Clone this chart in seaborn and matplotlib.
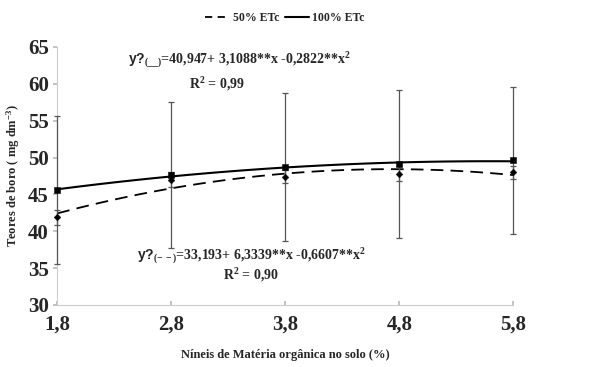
import matplotlib
matplotlib.use("Agg")
import matplotlib.pyplot as plt
import numpy as np
import pandas as pd
import seaborn as sns
from matplotlib.lines import Line2D

# data
mo_levels = [1.8, 2.8, 3.8, 4.8, 5.8]
tick_labels = ["1,8", "2,8", "3,8", "4,8", "5,8"]
boro_100 = [45.6, 47.6, 48.7, 49.1, 49.6]
err_100 = [10.0, 9.9, 10.0, 10.0, 10.0]
boro_50 = [41.9, 47.0, 47.4, 47.8, 48.0]
err_50 = [1.0, 1.0, 0.9, 1.0, 0.9]

sns.set_theme(style="white")
plt.rcParams["font.family"] = ["Liberation Serif", "DejaVu Serif"]
plt.rcParams["font.weight"] = "bold"
plt.rcParams["mathtext.fontset"] = "custom"
plt.rcParams["mathtext.rm"] = "Liberation Serif:bold"
plt.rcParams["mathtext.it"] = "Liberation Serif:bold"
plt.rcParams["mathtext.bf"] = "Liberation Serif:bold"
plt.rcParams["mathtext.sf"] = "Liberation Sans:bold"

df = pd.DataFrame({
    "mo": mo_levels * 2,
    "boro": boro_50 + boro_100,
    "trat": ["50% ETc"] * 5 + ["100% ETc"] * 5,
})

fig = plt.figure(figsize=(5.9, 3.67), dpi=100)
ax = fig.add_axes([0.097, 0.169, 0.773, 0.703])

# error bars
for yv, ev in [(boro_100, err_100), (boro_50, err_50)]:
    eb = ax.errorbar(mo_levels, yv, yerr=ev, fmt="none", ecolor="#555555",
                     elinewidth=0.9, capsize=2, capthick=0.9, zorder=3)
    for art in eb.lines[1] + eb.lines[2]:
        art.set_clip_on(False)

# quadratic fits
d50 = df[df.trat == "50% ETc"]
d100 = df[df.trat == "100% ETc"]
sns.regplot(data=d50, x="mo", y="boro", order=2, ci=None, scatter=False, ax=ax,
            line_kws=dict(color="black", lw=1.3, ls=(0, (7, 4))))
sns.regplot(data=d100, x="mo", y="boro", order=2, ci=None, scatter=False, ax=ax,
            line_kws=dict(color="black", lw=1.5))

# markers
sns.scatterplot(data=d100, x="mo", y="boro", marker="s", s=22, color="black",
                edgecolor="black", ax=ax, zorder=4, clip_on=False)
sns.scatterplot(data=d50, x="mo", y="boro", marker="D", s=12, color="black",
                edgecolor="black", ax=ax, zorder=4, clip_on=False)

ax.set_xlim(1.8, 5.8)
ax.set_ylim(30, 65)
ax.set_xticks(mo_levels)
ax.set_xticklabels(tick_labels)
ax.set_yticks(range(30, 70, 5))
ax.tick_params(axis="both", labelsize=15, length=3, color="#bbbbbb")
ax.tick_params(axis="x", pad=7)
ax.tick_params(axis="y", direction="out", left=True, pad=3)
ax.tick_params(axis="x", direction="in", bottom=True)
for lab in ax.get_xticklabels() + ax.get_yticklabels():
    lab.set_fontweight("bold")
for s in ["top", "right"]:
    ax.spines[s].set_visible(False)
for s in ["left", "bottom"]:
    ax.spines[s].set_color("#cccccc")
    ax.spines[s].set_linewidth(0.8)

ax.set_xlabel("Níneis de Matéria orgânica no solo (%)", fontsize=9, fontweight="bold", labelpad=10)
ax.set_ylabel("Teores de boro ( mg dm$^{-3}$)", fontsize=9, fontweight="bold", labelpad=4)

# equations
eq_size = 10
ax.text(3.4, 63.2, r"$\mathsf{y?}_{(\_\_)}$=40,947+ 3,1088**x -0,2822**x$^{2}$",
        ha="center", va="center", fontsize=eq_size, fontweight="bold")
ax.text(3.2, 60.0, r"R$^{2}$ = 0,99", ha="center", va="center", fontsize=eq_size, fontweight="bold")
ax.text(3.5, 36.6, r"$\mathsf{y?}_{(-\,-)}$=33,193+ 6,3339**x -0,6607**x$^{2}$",
        ha="center", va="center", fontsize=eq_size, fontweight="bold")
ax.text(3.5, 34.0, r"R$^{2}$ = 0,90", ha="center", va="center", fontsize=eq_size, fontweight="bold")

handles = [Line2D([0], [0], color="black", lw=1.3, ls=(0, (4, 3))),
           Line2D([0], [0], color="black", lw=1.5)]
fig.legend(handles, ["50% ETc", "100% ETc"], loc="center", bbox_to_anchor=(0.483, 0.95),
           ncol=2, frameon=False, handlelength=2.0, columnspacing=0.5,
           handletextpad=0.3, prop=dict(weight="bold", size=8.5))

fig.savefig("out.png", dpi=100)
